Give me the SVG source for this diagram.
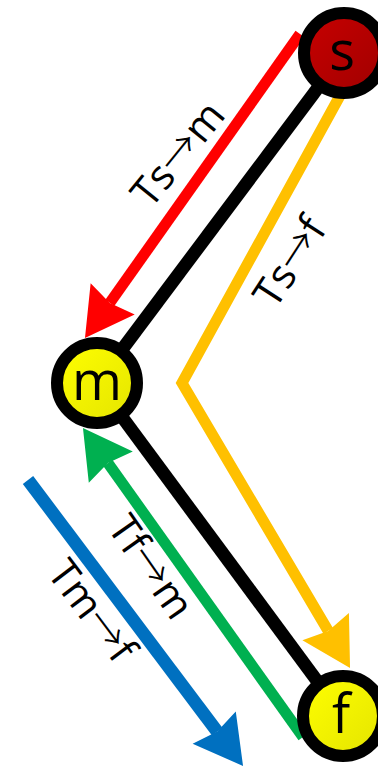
<svg xmlns="http://www.w3.org/2000/svg" width="378" height="768" viewBox="0 0 378 768">
<style>
.edge{fill:none;stroke-linecap:butt;stroke-linejoin:miter}
.node circle{stroke:#000;stroke-width:12}
.nlabel{font-family:"Open Sans","DejaVu Sans",sans-serif;font-size:54px;fill:#000;text-anchor:middle}
.elabel{font-family:"Open Sans","DejaVu Sans",sans-serif;font-size:41px;fill:#000;text-anchor:middle}
.arr{font-family:"Noto Sans CJK SC","DejaVu Sans",sans-serif;font-weight:300}
</style>
<defs>
<linearGradient id="gRed" x1="0" y1="0" x2="1" y2="1">
<stop offset="0" stop-color="#c80000"/><stop offset="1" stop-color="#a00000"/>
</linearGradient>
<linearGradient id="gYel" x1="0" y1="0" x2="1" y2="1">
<stop offset="0" stop-color="#ffff00"/><stop offset="1" stop-color="#e4e400"/>
</linearGradient>
<marker id="aRed" markerUnits="userSpaceOnUse" orient="auto" refX="5" refY="0" overflow="visible" markerWidth="60" markerHeight="60"><path d="M0,-27 L48,0 L0,27 L5,0 Z" fill="#ff0000"/></marker>
<marker id="aOrange" markerUnits="userSpaceOnUse" orient="auto" refX="5" refY="0" overflow="visible" markerWidth="60" markerHeight="60"><path d="M0,-27 L48,0 L0,27 L5,0 Z" fill="#ffc000"/></marker>
<marker id="aGreen" markerUnits="userSpaceOnUse" orient="auto" refX="5" refY="0" overflow="visible" markerWidth="60" markerHeight="60"><path d="M0,-27 L48,0 L0,27 L5,0 Z" fill="#00b050"/></marker>
<marker id="aBlue" markerUnits="userSpaceOnUse" orient="auto" refX="5" refY="0" overflow="visible" markerWidth="60" markerHeight="60"><path d="M0,-27 L48,0 L0,27 L5,0 Z" fill="#0070c0"/></marker>
</defs>
<rect width="378" height="768" fill="#fff"/>
<g id="connectors">
<line class="edge" x1="344" y1="53" x2="97" y2="383" stroke="#000" stroke-width="13"/>
<line class="edge" x1="97" y1="383" x2="343" y2="716" stroke="#000" stroke-width="13"/>
<line class="edge" x1="300" y1="34" x2="109.8" y2="302.9" stroke="#ff0000" stroke-width="11" marker-end="url(#aRed)"/>
<polyline class="edge" points="342,92 182,383 328.2,630.9" stroke="#ffc000" stroke-width="11" marker-end="url(#aOrange)"/>
<line class="edge" x1="303" y1="737" x2="107.9" y2="463" stroke="#00b050" stroke-width="11" marker-end="url(#aGreen)"/>
<line class="edge" x1="28" y1="480" x2="217.2" y2="731.6" stroke="#0070c0" stroke-width="13" stroke-linecap="round" marker-end="url(#aBlue)"/>
<text class="elabel" transform="translate(178,154) rotate(-51)" x="0" y="14">Ts<tspan class="arr">→</tspan>m</text>
<text class="elabel" transform="translate(290,262) rotate(-57)" x="0" y="14">Ts<tspan class="arr">→</tspan>f</text>
<text class="elabel" transform="translate(151,567) rotate(55)" x="0" y="14">Tf<tspan class="arr">→</tspan>m</text>
<text class="elabel" transform="translate(92,611) rotate(53)" x="0" y="14">Tm<tspan class="arr">→</tspan>f</text>
</g>
<g id="node-s" class="node">
<circle cx="344" cy="53" r="40" fill="url(#gRed)"/>
<text class="nlabel" x="342" y="70">s</text>
</g>
<g id="node-m" class="node">
<circle cx="97" cy="383" r="40" fill="url(#gYel)"/>
<text class="nlabel" x="97" y="400">m</text>
</g>
<g id="node-f" class="node">
<circle cx="343" cy="716" r="40" fill="url(#gYel)"/>
<text class="nlabel" x="341" y="733">f</text>
</g>
</svg>
